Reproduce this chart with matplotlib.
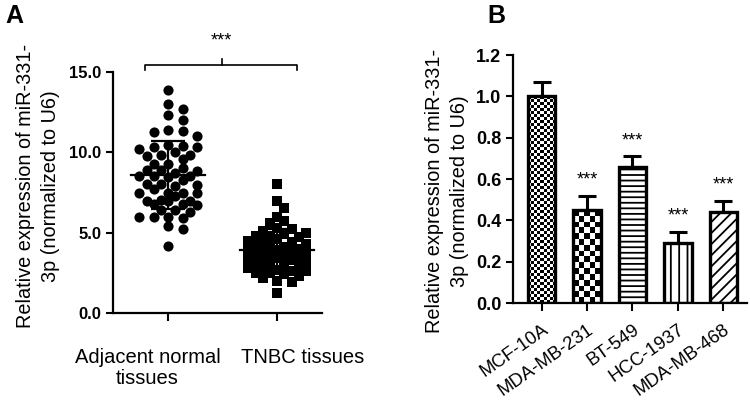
import numpy as np
import matplotlib
matplotlib.use("Agg")
import matplotlib.pyplot as plt
from matplotlib.ticker import FormatStrFormatter

plt.rcParams['font.family'] = ['Liberation Sans', 'DejaVu Sans']
plt.rcParams['hatch.linewidth'] = 1.3

# ---------------- data ----------------
groups_a = ["Adjacent normal\ntissues", "TNBC tissues"]
adjacent = [13.9, 13.0, 12.7, 12.3, 12.0, 11.4, 11.3, 11.25, 11.0, 10.45, 10.4, 10.35,
            10.35, 10.2, 10.0, 9.85, 9.85, 9.8, 9.6, 9.3, 9.3, 9.0, 8.9, 8.9, 8.85, 8.7,
            8.5, 8.5, 8.5, 8.45, 8.3, 8.0, 8.0, 7.95, 7.9, 7.7, 7.5, 7.5, 7.5, 7.45, 7.3,
            7.05, 7.0, 7.0, 6.95, 6.8, 6.8, 6.75, 6.4, 6.4, 6.3, 6.0, 6.0, 6.0, 5.9, 5.4,
            5.2, 4.15]
tnbc = [8.0, 7.0, 6.55, 6.0, 5.7, 5.6, 5.3, 5.2, 5.1, 5.0, 4.9, 4.8, 4.8, 4.7, 4.6, 4.5,
        4.5, 4.4, 4.3, 4.3, 4.2, 4.1, 4.0, 4.0, 3.95, 3.9, 3.85, 3.8, 3.7, 3.65, 3.6, 3.5,
        3.5, 3.4, 3.4, 3.3, 3.2, 3.1, 3.1, 3.0, 2.9, 2.9, 2.8, 2.7, 2.6, 2.6, 2.5, 2.5,
        2.4, 2.3, 2.2, 2.0, 1.9, 1.25]

cell_lines = ["MCF-10A", "MDA-MB-231", "BT-549", "HCC-1937", "MDA-MB-468"]
expr = [1.00, 0.45, 0.66, 0.29, 0.44]
expr_err = [0.07, 0.07, 0.05, 0.055, 0.055]
signif = ["", "***", "***", "***", "***"]

yticks_a = [0.0, 5.0, 10.0, 15.0]
yticks_b = [0.0, 0.2, 0.4, 0.6, 0.8, 1.0, 1.2]
ylabel = "Relative expression of miR-331-\n3p (normalized to U6)"

# ---------------- figure ----------------
W, H = 750, 407
fig = plt.figure(figsize=(W / 100, H / 100), dpi=100)

def frac(l, r, b, t):
    return [l / W, 1 - b / H, (r - l) / W, (b - t) / H]

axA = fig.add_axes(frac(113, 322, 313, 72))
axB = fig.add_axes(frac(513, 747, 303, 55))

for ax in (axA, axB):
    for s in ("top", "right"):
        ax.spines[s].set_visible(False)
    for s in ("left", "bottom"):
        ax.spines[s].set_linewidth(1.6)
    ax.tick_params(width=1.5, length=5, direction="out")

# ---------------- panel A ----------------
xlimA = (-0.505, 1.41)
ylimA = (0, 15)
axA.set_xlim(*xlimA)
axA.set_ylim(*ylimA)
px_x = (322 - 113) / (xlimA[1] - xlimA[0])
px_y = (313 - 72) / (ylimA[1] - ylimA[0])

def swarm(vals, step_px=7.2, dmin=9.0, maxk=4):
    order = np.argsort(vals)[::-1]
    placed = []
    offs = np.zeros(len(vals))
    cand = [0]
    for k in range(1, maxk + 1):
        cand += [k, -k]
    for i in order:
        yv = vals[i] * px_y
        best, bestd = 0, -1.0
        chosen = None
        for c in cand:
            xv = c * step_px
            d = min([np.hypot(xv - px, yv - py) for px, py in placed] + [1e9])
            if d >= dmin:
                chosen = c
                break
            if d > bestd:
                best, bestd = c, d
        if chosen is None:
            chosen = best
        placed.append((chosen * step_px, yv))
        offs[i] = chosen * step_px / px_x
    return offs

for gi, (vals, mk, ms) in enumerate([(adjacent, "o", 7.3), (tnbc, "s", 6.6)]):
    vals = np.asarray(vals)
    offs = swarm(vals, dmin=9.5 if gi == 0 else 8.0)
    axA.plot(gi + offs, vals, linestyle="none", marker=mk, markersize=ms,
             color="black", markeredgewidth=0, zorder=3)
    m, sd = vals.mean(), vals.std(ddof=1)
    axA.plot([gi - 0.34, gi + 0.34], [m, m], color="black", lw=1.6, zorder=4)
    axA.errorbar([gi], [m], yerr=[sd], color="black", lw=1.6, capsize=12,
                 capthick=1.6, zorder=4, fmt="none")

axA.set_xticks([0, 1])
axA.set_xticklabels(["", ""])
axA.tick_params(axis="x", length=6)
label_x = [-0.19, 1.23]
for lx, g in zip(label_x, groups_a):
    axA.text(lx, -0.145, g, transform=axA.get_xaxis_transform(), ha="center", va="top",
             fontsize=14.5, linespacing=1.15)
axA.set_yticks(yticks_a)
axA.yaxis.set_major_formatter(FormatStrFormatter("%.1f"))
for lab in axA.get_yticklabels():
    lab.set_fontweight("bold")
    lab.set_fontsize(12)
axA.set_ylabel(ylabel, fontsize=14.3, linespacing=1.4)
axA.yaxis.set_label_coords(-0.255, 0.527)

# significance bracket
bx0, bx1, bxc = -0.21, 1.18, 0.49
axA.plot([bx0, bx0, bx1, bx1], [15.1, 15.43, 15.43, 15.1], color="black", lw=1.2, clip_on=False)
axA.plot([bxc, bxc], [15.43, 15.8], color="black", lw=1.2, clip_on=False)
axA.text(bxc, 16.9, "***", ha="center", va="center", fontsize=13)

# ---------------- panel B ----------------
x = np.arange(len(cell_lines))
axB.set_xlim(-0.63, 4.52)
axB.set_ylim(0, 1.2)
hatches = [None, None, "---", "||", "///"]
faces = ["none", "none", "white", "white", "white"]
bars = axB.bar(x, expr, width=0.6, color=faces, edgecolor="black", linewidth=2.4,
               zorder=2)
for b, h in zip(bars, hatches):
    if h:
        b.set_hatch(h)

# checkerboard textures for the first two bars
def checker(ax, bar, cell_px):
    x0, y0 = bar.get_x(), bar.get_y()
    w, h = bar.get_width(), bar.get_height()
    pxw = w * (747 - 513) / (4.52 + 0.63)
    pxh = h * (303 - 55) / 1.2
    nx = max(1, int(round(pxw / cell_px)))
    ny = max(1, int(round(pxh / cell_px)))
    img = (np.add.outer(np.arange(ny), np.arange(nx)) % 2).astype(float)
    im = ax.imshow(img, cmap="gray", extent=(x0, x0 + w, y0, y0 + h), aspect="auto",
                   interpolation="nearest", zorder=1.5, vmin=0, vmax=1)
    im.set_clip_path(bar)

checker(axB, bars[0], 3.0)
checker(axB, bars[1], 6.0)
axB.set_xlim(-0.63, 4.52)
axB.set_ylim(0, 1.2)

axB.errorbar(x, expr, yerr=[np.zeros(len(expr)), expr_err], fmt="none", ecolor="black",
             elinewidth=2.2, capsize=6.5, capthick=2.2, zorder=1)
for xi, v, e, s in zip(x, expr, expr_err, signif):
    if s:
        axB.text(xi, v + e + 0.075, s, ha="center", va="center", fontsize=13)

axB.set_xticks(x)
axB.set_xticklabels(cell_lines, rotation=35, ha="right", rotation_mode="anchor",
                    fontsize=13.3)
axB.tick_params(axis="x", length=6, pad=7)
axB.set_yticks(yticks_b)
axB.yaxis.set_major_formatter(FormatStrFormatter("%.1f"))
for lab in axB.get_yticklabels():
    lab.set_fontweight("bold")
    lab.set_fontsize(13)
axB.set_ylabel(ylabel, fontsize=14.3, linespacing=1.4)
axB.yaxis.set_label_coords(-0.19, 0.45)

fig.text(5 / W, 1 - 4 / H, "A", fontsize=18, fontweight="bold", va="top", ha="left")
fig.text(487 / W, 1 - 4 / H, "B", fontsize=18, fontweight="bold", va="top", ha="left")

fig.savefig("out.png", dpi=100)
